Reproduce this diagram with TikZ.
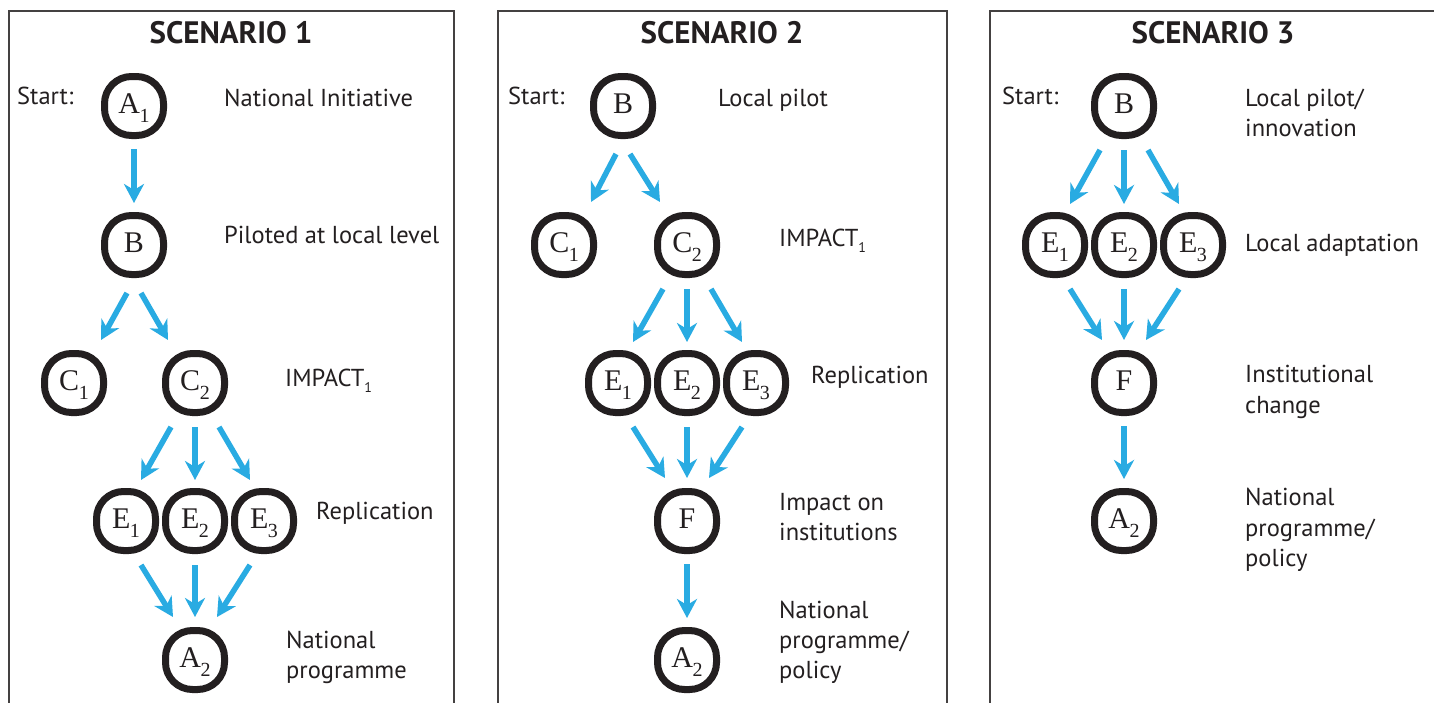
\documentclass[tikz,border=0pt]{standalone}
\usepackage{fontspec}
\setmainfont{PT Sans}
\newfontfamily\nodefont{Liberation Serif}
\usetikzlibrary{arrows.meta,calc}
\definecolor{ink}{HTML}{231F20}
\definecolor{arrowblue}{HTML}{29ABE2}
\newcommand\nsub[2]{#1\kern-0.5pt\raisebox{-8.5pt}{\fontsize{20}{20}\selectfont #2}}
\newcommand\lsub[1]{\raisebox{-6.5pt}{\fontsize{14}{14}\selectfont #1}}
\tikzset{
  box/.style={draw=ink, line width=7pt, rounded corners=27pt, minimum width=59pt,
    minimum height=59pt, inner sep=0pt, text height=15.4pt, text depth=0pt,
    font=\nodefont\fontsize{30}{30}\selectfont, text=ink},
  lbl/.style={anchor=base west, inner sep=0pt, font=\fontsize{24.5}{30}\selectfont, text=ink},
  ttl/.style={anchor=base, inner sep=0pt, font=\bfseries\fontsize{31}{32}\selectfont, text=ink},
  panel/.style={draw=ink!85, line width=2pt},
  arr/.style={draw=arrowblue, line width=5.5pt, -{Stealth[length=19pt,width=20pt,inset=6pt]}}
}
\begin{document}
\begin{tikzpicture}[x=1pt,y=-1pt]
\useasboundingbox (0,0) rectangle (1434,702);
\clip (0,0) rectangle (1434,702);
\fill[white] (0,0) rectangle (1434,702);
% panels
\draw[panel] (8.5,11) rectangle (454,730);
\draw[panel] (498,11) rectangle (947,730);
\draw[panel] (990,11) rectangle (1450,730);
% titles
\node[ttl] (t1) at (231,43) {SCENARIO 1};
\node[ttl] (t2) at (722,43) {SCENARIO 2};
\node[ttl] (t3) at (1213,43) {SCENARIO 3};

% ---------- Scenario 1
\node[box] (pA1) at (134,106) {\nsub{A}{1}};
\node[box] (pB) at (134,245) {B};
\node[box] (pC1) at (74,383) {\nsub{C}{1}};
\node[box] (pC2) at (195,383) {\nsub{C}{2}};
\node[box] (pE1) at (126,521) {\nsub{E}{1}};
\node[box] (pE2) at (195,521) {\nsub{E}{2}};
\node[box] (pE3) at (264,521) {\nsub{E}{3}};
\node[box] (pA2) at (195,660) {\nsub{A}{2}};
\draw[arr] ($(pA1)+(0,43)$) -- ($(pB)+(0,-42)$);
\draw[arr] ($(pB)+(-7,48)$) -- ($(pC1)+(27,-43)$);
\draw[arr] ($(pB)+(7,48)$) -- ($(pC2)+(-27,-43)$);
\draw[arr] ($(pC2)+(-24,44)$) -- ($(pE1)+(15,-41)$);
\draw[arr] ($(pC2)+(0,44)$) -- ($(pE2)+(0,-41)$);
\draw[arr] ($(pC2)+(24,44)$) -- ($(pE3)+(-14,-41)$);
\draw[arr] ($(pE1)+(15,44)$) -- ($(pA2)+(-22,-43)$);
\draw[arr] ($(pE2)+(0,44)$) -- ($(pA2)+(0,-43)$);
\draw[arr] ($(pE3)+(-14,44)$) -- ($(pA2)+(22,-43)$);
\node[lbl] (s1) at (17,104) {Start:};
\node[lbl] (l1a) at (224,106) {National Initiative};
\node[lbl] (l1b) at (224,243) {Piloted at local level};
\node[lbl] (l1c) at (285,386) {IMPACT\lsub{1}};
\node[lbl] (l1d) at (316,519) {Replication};
\node[lbl] (l1e) at (286,648) {National};
\node[lbl] (l1f) at (286,678) {programme};

% ---------- Scenario 2
\node[box] (qB) at (623,106) {B};
\node[box] (qC1) at (564,245) {\nsub{C}{1}};
\node[box] (qC2) at (687,245) {\nsub{C}{2}};
\node[box] (qE1) at (618,383) {\nsub{E}{1}};
\node[box] (qE2) at (687,383) {\nsub{E}{2}};
\node[box] (qE3) at (756,383) {\nsub{E}{3}};
\node[box] (qF) at (687,521) {F};
\node[box] (qA2) at (687,660) {\nsub{A}{2}};
\draw[arr] ($(qB)+(-7,48)$) -- ($(qC1)+(27,-43)$);
\draw[arr] ($(qB)+(7,48)$) -- ($(qC2)+(-27,-43)$);
\draw[arr] ($(qC2)+(-24,44)$) -- ($(qE1)+(15,-41)$);
\draw[arr] ($(qC2)+(0,44)$) -- ($(qE2)+(0,-41)$);
\draw[arr] ($(qC2)+(24,44)$) -- ($(qE3)+(-14,-41)$);
\draw[arr] ($(qE1)+(15,44)$) -- ($(qF)+(-22,-43)$);
\draw[arr] ($(qE2)+(0,44)$) -- ($(qF)+(0,-43)$);
\draw[arr] ($(qE3)+(-14,44)$) -- ($(qF)+(22,-43)$);
\draw[arr] ($(qF)+(0,43)$) -- ($(qA2)+(0,-42)$);
\node[lbl] (s2) at (508,104) {Start:};
\node[lbl] (l2a) at (718,106) {Local pilot};
\node[lbl] (l2b) at (779,246) {IMPACT\lsub{1}};
\node[lbl] (l2c) at (811,383) {Replication};
\node[lbl] (l2d) at (779,510) {Impact on};
\node[lbl] (l2e) at (779,540) {institutions};
\node[lbl] (l2f) at (779,618) {National};
\node[lbl] (l2g) at (779,648) {programme/};
\node[lbl] (l2h) at (779,678) {policy};

% ---------- Scenario 3
\node[box] (rB) at (1124,106) {B};
\node[box] (rE1) at (1055,245) {\nsub{E}{1}};
\node[box] (rE2) at (1124,245) {\nsub{E}{2}};
\node[box] (rE3) at (1193,245) {\nsub{E}{3}};
\node[box] (rF) at (1124,383) {F};
\node[box] (rA2) at (1124,521) {\nsub{A}{2}};
\draw[arr] ($(rB)+(-24,44)$) -- ($(rE1)+(15,-41)$);
\draw[arr] ($(rB)+(0,44)$) -- ($(rE2)+(0,-41)$);
\draw[arr] ($(rB)+(24,44)$) -- ($(rE3)+(-14,-41)$);
\draw[arr] ($(rE1)+(15,44)$) -- ($(rF)+(-22,-43)$);
\draw[arr] ($(rE2)+(0,44)$) -- ($(rF)+(0,-43)$);
\draw[arr] ($(rE3)+(-14,44)$) -- ($(rF)+(22,-43)$);
\draw[arr] ($(rF)+(0,43)$) -- ($(rA2)+(0,-42)$);
\node[lbl] (s3) at (1002,104) {Start:};
\node[lbl] (l3a) at (1245,106) {Local pilot/};
\node[lbl] (l3b) at (1245,136) {innovation};
\node[lbl] (l3c) at (1245,251) {Local adaptation};
\node[lbl] (l3d) at (1245,382) {Institutional};
\node[lbl] (l3e) at (1245,413) {change};
\node[lbl] (l3f) at (1245,505) {National};
\node[lbl] (l3g) at (1245,536) {programme/};
\node[lbl] (l3h) at (1245,566) {policy};
\end{tikzpicture}
\end{document}
